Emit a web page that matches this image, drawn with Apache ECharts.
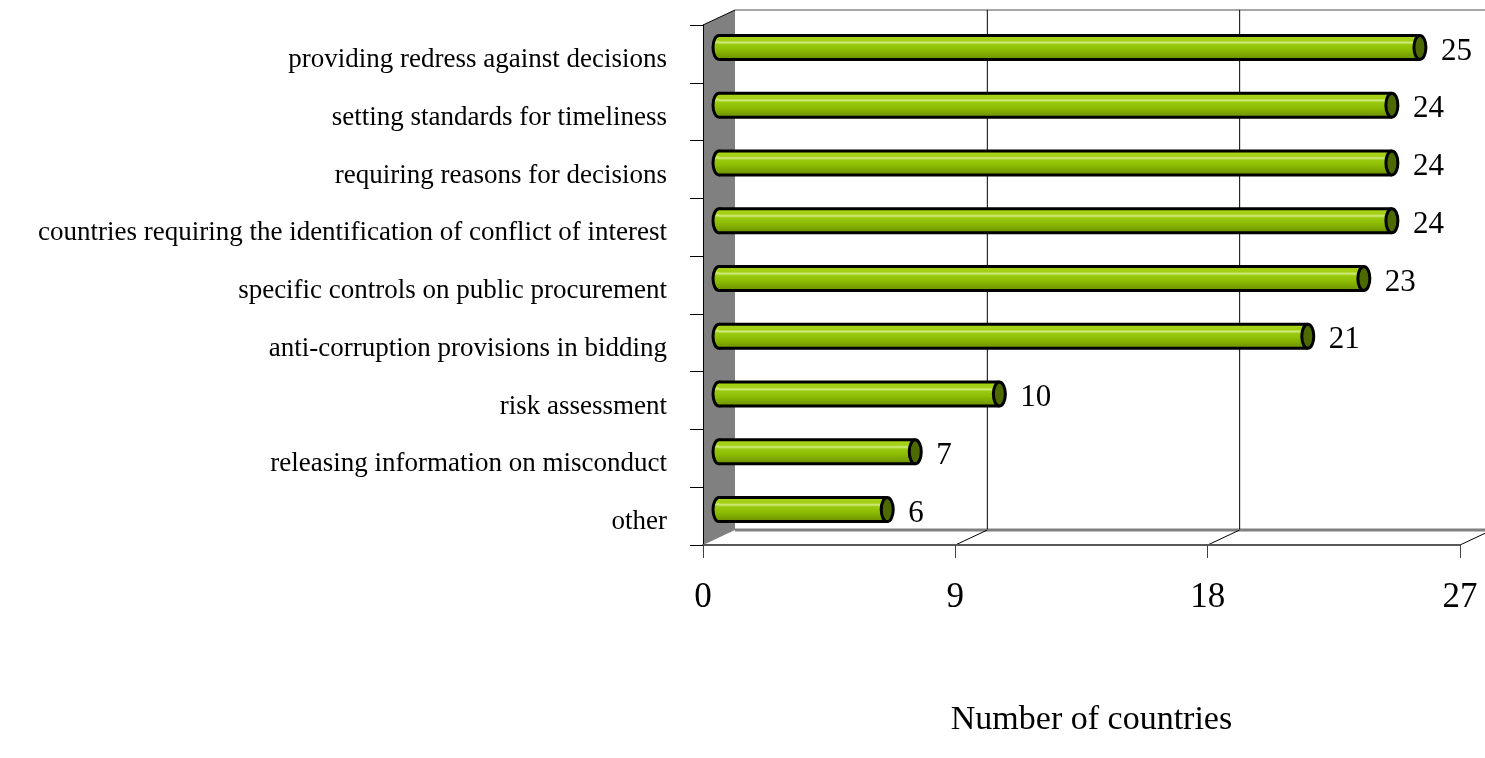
<!DOCTYPE html>
<html>
<head>
<meta charset="utf-8">
<style>
  html, body { margin: 0; padding: 0; background: #fff; }
  #chart { width: 1485px; height: 758px; }
</style>
<script src="https://cdn.jsdelivr.net/npm/echarts@6/dist/echarts.min.js"></script>
</head>
<body>
<div id="chart"></div>
<script>
var categories = [
  'providing redress against decisions',
  'setting standards for timeliness',
  'requiring reasons for decisions',
  'countries requiring the identification of conflict of interest',
  'specific controls on public procurement',
  'anti-corruption provisions in bidding',
  'risk assessment',
  'releasing information on misconduct',
  'other'
];
var values = [25, 24, 24, 24, 23, 21, 10, 7, 6];
var xTicks = [0, 9, 18, 27];
var axisTitle = 'Number of countries';

(function(window, echarts, undefined) {
  var FONT = '"Liberation Serif", "Times New Roman", serif';
  // 3D depth offset
  var DX = 32,
    DY = -15;

  fnInitChart();

  // walls, floor and back grid lines
  function fnRenderFrame(params, api) {
    var cs = params.coordSys,
      x = cs.x,
      y = cs.y,
      w = cs.width,
      h = cs.height,
      children = [];

    children.push({
      type: 'polygon',
      shape: { points: [[x, y], [x + DX, y + DY], [x + DX, y + h + DY], [x, y + h]] },
      style: { fill: '#808080' }
    });
    children.push({
      type: 'line',
      shape: { x1: x + DX, y1: y + DY, x2: x + w + DX + 40, y2: y + DY },
      style: { stroke: '#a6a6a6', lineWidth: 2 }
    });
    children.push({
      type: 'line',
      shape: { x1: x, y1: y, x2: x + DX, y2: y + DY },
      style: { stroke: '#000', lineWidth: 1 }
    });
    children.push({
      type: 'line',
      shape: { x1: x + DX, y1: y + h + DY, x2: x + w + DX + 40, y2: y + h + DY },
      style: { stroke: '#808080', lineWidth: 3 }
    });

    xTicks.forEach(function(t) {
      if (t === 0) return;
      var px = api.coord([t, 0])[0];
      children.push({
        type: 'line',
        shape: { x1: px + DX, y1: y + DY, x2: px + DX, y2: y + h + DY - 1 },
        style: { stroke: '#000', lineWidth: 1 }
      });
      children.push({
        type: 'line',
        shape: { x1: px, y1: y + h, x2: px + DX, y2: y + h + DY },
        style: { stroke: '#000', lineWidth: 1 }
      });
    });

    return { type: 'group', children: children };
  }

  // cylinder bars
  function fnRenderBar(params, api) {
    var idx = api.value(1),
      val = api.value(0),
      p0 = api.coord([0, idx]),
      p1 = api.coord([val, idx]),
      cx0 = p0[0] + DX / 2,
      cx1 = p1[0] + DX / 2,
      cy = p0[1] + DY / 2 + 1,
      rx = 6,
      ry = 12;

    var grad = new echarts.graphic.LinearGradient(0, 0, 0, 1, [
      { offset: 0, color: '#a9d418' },
      { offset: 0.22, color: '#a2cf14' },
      { offset: 0.3, color: '#d2ec80' },
      { offset: 0.38, color: '#9acb10' },
      { offset: 0.6, color: '#8cbc04' },
      { offset: 0.8, color: '#7ca600' },
      { offset: 1, color: '#6a9000' }
    ]);

    return {
      type: 'group',
      children: [
        {
          type: 'ellipse',
          shape: { cx: cx0, cy: cy, rx: rx, ry: ry },
          style: { fill: grad, stroke: '#000', lineWidth: 3 }
        },
        {
          type: 'rect',
          shape: { x: cx0, y: cy - ry, width: cx1 - cx0, height: ry * 2 },
          style: { fill: grad }
        },
        {
          type: 'line',
          shape: { x1: cx0, y1: cy - ry, x2: cx1, y2: cy - ry },
          style: { stroke: '#000', lineWidth: 3 }
        },
        {
          type: 'line',
          shape: { x1: cx0, y1: cy + ry, x2: cx1, y2: cy + ry },
          style: { stroke: '#000', lineWidth: 3 }
        },
        {
          type: 'ellipse',
          shape: { cx: cx1, cy: cy, rx: rx, ry: ry },
          style: { fill: '#4d6a00', stroke: '#000', lineWidth: 3 }
        },
        {
          type: 'text',
          style: {
            x: cx1 + 21,
            y: cy + 4,
            text: String(val),
            fill: '#000',
            font: '31px ' + FONT,
            align: 'left',
            verticalAlign: 'middle'
          }
        }
      ]
    };
  }

  function fnInitChart() {
    var chart = echarts.init(document.getElementById('chart'), null, { renderer: 'canvas' });
    chart.setOption({
      animation: false,
      backgroundColor: '#fff',
      grid: { left: 703, right: 25, top: 25, bottom: 213 },
      xAxis: {
        type: 'value',
        min: xTicks[0],
        max: xTicks[xTicks.length - 1],
        interval: xTicks[1] - xTicks[0],
        z: 5,
        axisLine: { show: true, lineStyle: { color: '#595959', width: 2 } },
        axisTick: { show: true, length: 13, lineStyle: { color: '#404040' } },
        splitLine: { show: false },
        axisLabel: { margin: 35, fontSize: 35, fontFamily: FONT, color: '#000' },
        name: axisTitle,
        nameLocation: 'middle',
        nameGap: 158,
        nameTextStyle: { fontSize: 34, fontFamily: FONT, color: '#000', padding: [0, 0, 0, 20] }
      },
      yAxis: {
        type: 'category',
        data: categories,
        inverse: true,
        z: 5,
        axisLine: { show: true, lineStyle: { color: '#000', width: 1 } },
        axisTick: { show: true, length: 13, lineStyle: { color: '#000' } },
        axisLabel: {
          margin: 36,
          color: '#000',
          formatter: function(v) {
            return '{t|' + v + '}';
          },
          rich: {
            t: { fontSize: 27, fontFamily: FONT, color: '#000', padding: [12, 0, 0, 0] }
          }
        }
      },
      series: [
        {
          type: 'custom',
          silent: true,
          z: 1,
          renderItem: fnRenderFrame,
          data: [[0, 0]]
        },
        {
          type: 'custom',
          z: 3,
          renderItem: fnRenderBar,
          encode: { x: 0, y: 1 },
          data: values.map(function(v, i) {
            return [v, i];
          })
        }
      ]
    });
  }
})(window, echarts);
</script>
</body>
</html>
